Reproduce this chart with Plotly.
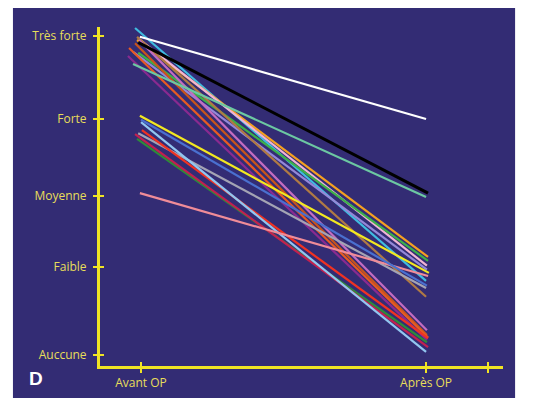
import plotly.graph_objects as go

# ---- data ----
tick_labels = ["Auccune", "Faible", "Moyenne", "Forte", "Très forte"]
tick_values = [0, 1.1, 2.0, 2.96, 4]
x_labels = ["Avant OP", "Après OP", ""]
x_tick_values = [1, 2, 2.218]

avant_x = [0.979, 0.986, 0.993, 0.972, 0.99, 0.986, 0.993, 0.979, 0.954, 0.958, 0.99,
           1.003, 0.986, 0.979, 1.0, 0.972, 0.99, 0.996, 0.996, 1.0, 0.996]
avant_y = [4.10, 3.95, 3.96, 3.80, 3.79, 3.99, 3.95, 3.91, 3.75, 3.85, 2.78,
           2.82, 2.71, 2.77, 2.92, 3.65, 3.92, 2.03, 3.00, 2.95, 3.99]
apres_x = [2.0, 2.007, 2.003, 2.003, 2.007, 2.0, 2.003, 2.003, 2.003, 2.007, 2.0,
           2.007, 2.003, 2.007, 2.0, 2.0, 2.007, 2.007, 2.01, 2.003, 2.0]
apres_y = [0.93, 1.23, 1.12, 1.07, 1.18, 0.73, 0.31, 0.25, 0.19, 0.22, 0.84,
           0.21, 0.16, 0.10, 0.04, 1.98, 2.03, 0.99, 1.03, 0.87, 2.96]

palette = ["#3FBCE0", "#F5A020", "#F0B4D4", "#9488D8", "#3CB04A", "#B07A44", "#C46CC0",
           "#C8541C", "#8A2A90", "#E85A22", "#A4A4B4", "#F03222", "#2E8A3A", "#C22050",
           "#92C6F0", "#6CC8A2", "#000000", "#F08C98", "#F2E820", "#4A70D0", "#FFFFFF"]

fig = go.Figure()
for i in range(len(avant_x)):
    fig.add_trace(go.Scatter(
        x=[avant_x[i], apres_x[i]], y=[avant_y[i], apres_y[i]],
        mode="lines", line=dict(color=palette[i], width=3 if palette[i] == "#000000" else 2.2),
        showlegend=False, hoverinfo="skip"))

# invisible trace to host crossing-tick overlay axes
fig.add_trace(go.Scatter(x=[1], y=[0], xaxis="x2", yaxis="y2", mode="markers",
                         marker=dict(opacity=0), showlegend=False, hoverinfo="skip"))

axis_yellow = "#F0E424"
label_col = "#E8DE5A"
font = dict(family="Open Sans", size=12, color=label_col)

xr = [0.856, 2.27]
yr = [-0.138, 4.113]

fig.update_layout(
    width=543, height=398,
    margin=dict(l=92, r=48, t=19, b=40),
    paper_bgcolor="white",
    plot_bgcolor="rgba(0,0,0,0)",
    xaxis=dict(range=xr, tickvals=x_tick_values, ticktext=x_labels, showgrid=False,
               zeroline=False, showline=True, linecolor=axis_yellow, linewidth=3,
               ticks="outside", ticklen=4, tickwidth=2, tickcolor=axis_yellow,
               tickfont=font, fixedrange=True),
    yaxis=dict(range=yr, tickvals=tick_values, ticktext=tick_labels, showgrid=False,
               zeroline=False, showline=True, linecolor=axis_yellow, linewidth=3,
               ticks="outside", ticklen=4, tickwidth=2, tickcolor=axis_yellow,
               tickfont=font, ticklabelstandoff=4, fixedrange=True),
    xaxis2=dict(range=xr, overlaying="x", tickvals=x_tick_values, showticklabels=False,
                showgrid=False, zeroline=False, showline=False, ticks="inside",
                ticklen=4, tickwidth=2, tickcolor=axis_yellow, side="bottom"),
    yaxis2=dict(range=yr, overlaying="y", tickvals=tick_values, showticklabels=False,
                showgrid=False, zeroline=False, showline=False, ticks="inside",
                ticklen=4, tickwidth=2, tickcolor=axis_yellow, side="left"),
    shapes=[dict(type="rect", xref="paper", yref="paper", x0=-0.216, x1=1.03,
                 y0=-0.13, y1=1.056, fillcolor="#332C74", line=dict(width=0),
                 layer="below")],
    annotations=[dict(text="<b>D</b>", xref="paper", yref="paper", x=-0.159, y=-0.038,
                      xanchor="center", yanchor="middle", showarrow=False,
                      font=dict(family="Liberation Sans", size=19, color="white"))],
)

fig.write_html("out.html")
